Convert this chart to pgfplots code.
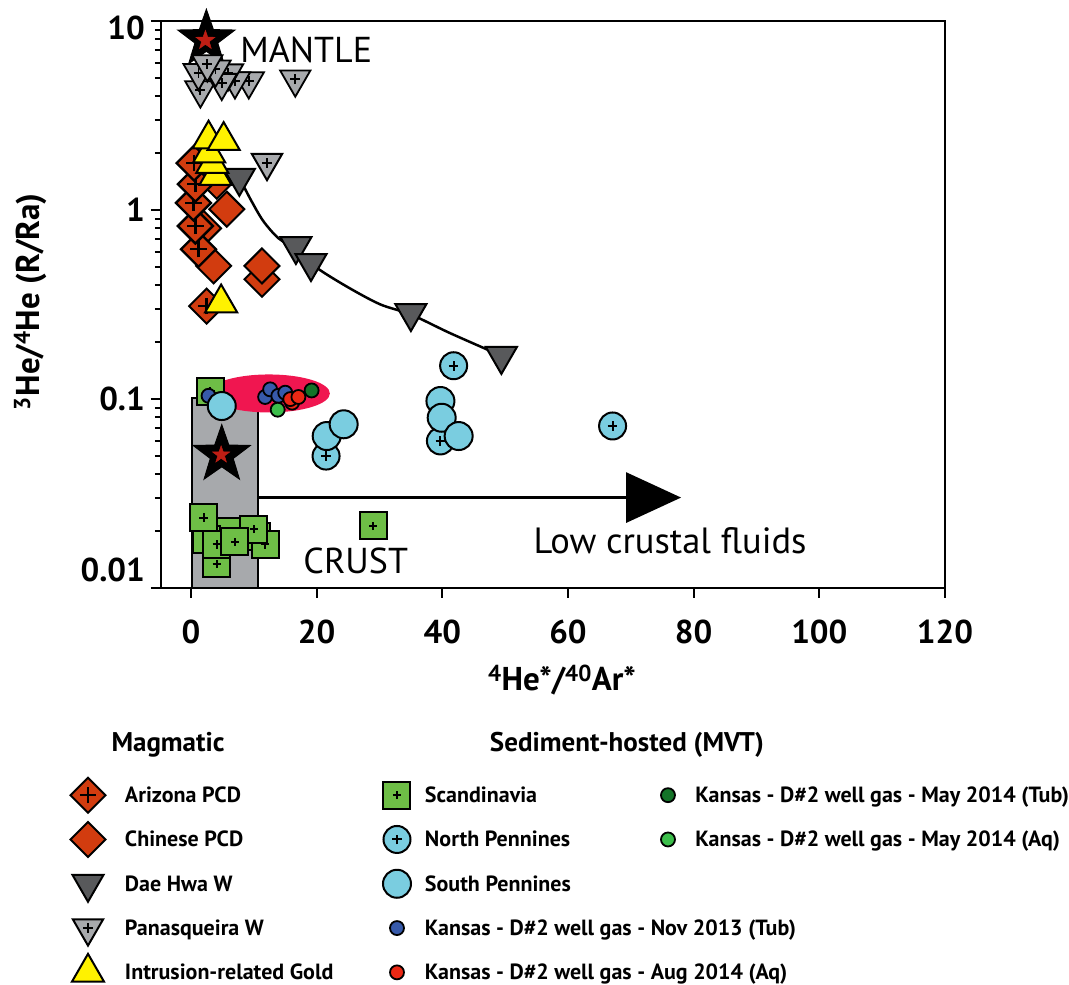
\documentclass[border=0pt]{standalone}
\usepackage{fontspec}
\setmainfont{PT Sans}
\usepackage{pgfplots}
\pgfplotsset{compat=1.18}
\usetikzlibrary{arrows.meta}

\definecolor{cOr}{RGB}{210,60,15}
\definecolor{cDk}{RGB}{88,89,91}
\definecolor{cLt}{RGB}{167,169,172}
\definecolor{cYe}{RGB}{255,242,0}
\definecolor{cGr}{RGB}{110,190,70}
\definecolor{cBl}{RGB}{122,205,224}
\definecolor{kBlue}{RGB}{55,90,170}
\definecolor{kRed}{RGB}{235,40,20}
\definecolor{kDg}{RGB}{20,115,40}
\definecolor{kLg}{RGB}{60,190,75}
\definecolor{cRect}{RGB}{167,169,172}
\definecolor{cEll}{RGB}{240,22,80}
\definecolor{cStar}{RGB}{190,30,20}

\pgfdeclareplotmark{mdiam}{%
 \pgfpathmoveto{\pgfqpoint{0pt}{\pgfplotmarksize}}%
 \pgfpathlineto{\pgfqpoint{\pgfplotmarksize}{0pt}}%
 \pgfpathlineto{\pgfqpoint{0pt}{-\pgfplotmarksize}}%
 \pgfpathlineto{\pgfqpoint{-\pgfplotmarksize}{0pt}}%
 \pgfpathclose\pgfusepathqfillstroke}
\pgfdeclareplotmark{mdiamplus}{%
 \pgfpathmoveto{\pgfqpoint{0pt}{\pgfplotmarksize}}%
 \pgfpathlineto{\pgfqpoint{\pgfplotmarksize}{0pt}}%
 \pgfpathlineto{\pgfqpoint{0pt}{-\pgfplotmarksize}}%
 \pgfpathlineto{\pgfqpoint{-\pgfplotmarksize}{0pt}}%
 \pgfpathclose\pgfusepathqfillstroke
 \pgfsetlinewidth{2.4pt}%
 \pgfpathmoveto{\pgfqpoint{-0.47\pgfplotmarksize}{0pt}}%
 \pgfpathlineto{\pgfqpoint{0.47\pgfplotmarksize}{0pt}}%
 \pgfpathmoveto{\pgfqpoint{0pt}{-0.47\pgfplotmarksize}}%
 \pgfpathlineto{\pgfqpoint{0pt}{0.47\pgfplotmarksize}}%
 \pgfusepathqstroke}
\pgfdeclareplotmark{mtridown}{%
 \pgfpathmoveto{\pgfqpoint{0pt}{-\pgfplotmarksize}}%
 \pgfpathlineto{\pgfqpoint{0.866\pgfplotmarksize}{0.5\pgfplotmarksize}}%
 \pgfpathlineto{\pgfqpoint{-0.866\pgfplotmarksize}{0.5\pgfplotmarksize}}%
 \pgfpathclose\pgfusepathqfillstroke}
\pgfdeclareplotmark{mtridownplus}{%
 \pgfpathmoveto{\pgfqpoint{0pt}{-\pgfplotmarksize}}%
 \pgfpathlineto{\pgfqpoint{0.866\pgfplotmarksize}{0.5\pgfplotmarksize}}%
 \pgfpathlineto{\pgfqpoint{-0.866\pgfplotmarksize}{0.5\pgfplotmarksize}}%
 \pgfpathclose\pgfusepathqfillstroke
 \pgfsetlinewidth{1.8pt}%
 \pgfpathmoveto{\pgfqpoint{-0.28\pgfplotmarksize}{0pt}}%
 \pgfpathlineto{\pgfqpoint{0.28\pgfplotmarksize}{0pt}}%
 \pgfpathmoveto{\pgfqpoint{0pt}{-0.28\pgfplotmarksize}}%
 \pgfpathlineto{\pgfqpoint{0pt}{0.28\pgfplotmarksize}}%
 \pgfusepathqstroke}
\pgfdeclareplotmark{mtriup}{%
 \pgfpathmoveto{\pgfqpoint{0pt}{\pgfplotmarksize}}%
 \pgfpathlineto{\pgfqpoint{0.866\pgfplotmarksize}{-0.5\pgfplotmarksize}}%
 \pgfpathlineto{\pgfqpoint{-0.866\pgfplotmarksize}{-0.5\pgfplotmarksize}}%
 \pgfpathclose\pgfusepathqfillstroke}
\pgfdeclareplotmark{msqplus}{%
 \pgfpathrectangle{\pgfqpoint{-\pgfplotmarksize}{-\pgfplotmarksize}}{\pgfqpoint{2\pgfplotmarksize}{2\pgfplotmarksize}}%
 \pgfusepathqfillstroke
 \pgfsetlinewidth{2pt}%
 \pgfpathmoveto{\pgfqpoint{-0.3\pgfplotmarksize}{0pt}}%
 \pgfpathlineto{\pgfqpoint{0.3\pgfplotmarksize}{0pt}}%
 \pgfpathmoveto{\pgfqpoint{0pt}{-0.3\pgfplotmarksize}}%
 \pgfpathlineto{\pgfqpoint{0pt}{0.3\pgfplotmarksize}}%
 \pgfusepathqstroke}
\pgfdeclareplotmark{mcircplus}{%
 \pgfpathcircle{\pgfpointorigin}{\pgfplotmarksize}%
 \pgfusepathqfillstroke
 \pgfsetlinewidth{2pt}%
 \pgfpathmoveto{\pgfqpoint{-0.36\pgfplotmarksize}{0pt}}%
 \pgfpathlineto{\pgfqpoint{0.36\pgfplotmarksize}{0pt}}%
 \pgfpathmoveto{\pgfqpoint{0pt}{-0.36\pgfplotmarksize}}%
 \pgfpathlineto{\pgfqpoint{0pt}{0.36\pgfplotmarksize}}%
 \pgfusepathqstroke}
\pgfdeclareplotmark{mstar}{%
 \pgfpathmoveto{\pgfqpointpolar{90}{\pgfplotmarksize}}%
 \pgfpathlineto{\pgfqpointpolar{126}{0.4\pgfplotmarksize}}%
 \pgfpathlineto{\pgfqpointpolar{162}{\pgfplotmarksize}}%
 \pgfpathlineto{\pgfqpointpolar{198}{0.4\pgfplotmarksize}}%
 \pgfpathlineto{\pgfqpointpolar{234}{\pgfplotmarksize}}%
 \pgfpathlineto{\pgfqpointpolar{270}{0.4\pgfplotmarksize}}%
 \pgfpathlineto{\pgfqpointpolar{306}{\pgfplotmarksize}}%
 \pgfpathlineto{\pgfqpointpolar{342}{0.4\pgfplotmarksize}}%
 \pgfpathlineto{\pgfqpointpolar{18}{\pgfplotmarksize}}%
 \pgfpathlineto{\pgfqpointpolar{54}{0.4\pgfplotmarksize}}%
 \pgfpathclose\pgfusepathqfillstroke}

\tikzset{
 sAz/.style={only marks, mark=mdiamplus, mark size=17.5pt, mark options={fill=cOr, draw=black, line width=2pt}},
 sCn/.style={only marks, mark=mdiam, mark size=17.5pt, mark options={fill=cOr, draw=black, line width=2pt}},
 sDh/.style={only marks, mark=mtridown, mark size=18pt, mark options={fill=cDk, draw=black, line width=2pt}},
 sPa/.style={only marks, mark=mtridownplus, mark size=17.5pt, mark options={fill=cLt, draw=black, line width=2pt}},
 sAu/.style={only marks, mark=mtriup, mark size=18.5pt, mark options={fill=cYe, draw=black, line width=2pt}},
 sSc/.style={only marks, mark=msqplus, mark size=13.5pt, mark options={fill=cGr, draw=black, line width=2pt}},
 sNp/.style={only marks, mark=mcircplus, mark size=13.5pt, mark options={fill=cBl, draw=black, line width=2pt}},
 sSp/.style={only marks, mark=*, mark size=14pt, mark options={fill=cBl, draw=black, line width=2pt}},
 sKn/.style={only marks, mark=*, mark size=7pt, mark options={fill=kBlue, draw=black, line width=1.8pt}},
 sKa/.style={only marks, mark=*, mark size=7pt, mark options={fill=kRed, draw=black, line width=1.8pt}},
 sKt/.style={only marks, mark=*, mark size=7pt, mark options={fill=kDg, draw=black, line width=1.8pt}},
 sKq/.style={only marks, mark=*, mark size=7pt, mark options={fill=kLg, draw=black, line width=1.8pt}},
}

\newcommand{\ca}[1]{\makebox[273pt][l]{\hspace*{19pt}#1}}
\newcommand{\cb}[1]{\makebox[235pt][l]{\hspace*{10pt}#1}}
\newcommand{\cc}[1]{\makebox[0pt][l]{\hspace*{9pt}#1}}

\begin{document}
\begin{tikzpicture}
\useasboundingbox (0,0) rectangle (1069pt,-985pt);
\begin{axis}[
  at={(161pt,-588pt)}, anchor=south west,
  scale only axis, width=784pt, height=567pt,
  xmin=-4.77, xmax=120, ymin=0.01, ymax=10, ymode=log,
  clip=false,
  axis line style={line width=2.5pt},
  every tick/.style={black, line width=2pt},
  tick align=outside, tick pos=left,
  major tick length=10pt, minor tick length=6pt,
  xtick={0,20,40,60,80,100,120},
  ytick={0.01,0.1,1,10},
  yticklabels={\raisebox{18pt}{0.01},0.1,1,\raisebox{-7pt}{10}},
  /pgf/number format/assume math mode=true,
  ticklabel style={font=\fontsize{33}{33}\selectfont\bfseries, inner sep=0pt, text height=23pt, text depth=0pt},
  yticklabel style={xshift=-6pt},
  xticklabel style={yshift=-22pt},
  xlabel={\textsuperscript{4}He*/\textsuperscript{40}Ar*},
  ylabel={\textsuperscript{3}He/\textsuperscript{4}He (R/Ra)},
  every axis x label/.style={at={(axis description cs:0.5115,-0.1623)}, anchor=center, font=\fontsize{33}{33}\selectfont\bfseries},
  every axis y label/.style={at={(axis description cs:-0.167,0.505)}, rotate=90, anchor=center, font=\fontsize{33}{33}\selectfont\bfseries},
  legend columns=3,
  legend cell align=left,
  legend style={at={(-0.11607,-0.32628)}, anchor=north west, draw=none, fill=none,
    inner sep=0pt, outer sep=0pt, row sep=0pt, column sep=0pt,
    font=\fontsize{22}{22}\selectfont\bfseries,
    nodes={inner sep=0pt, outer sep=0pt, text height=15pt, text depth=0pt},
    cells={anchor=west, inner sep=0pt, outer sep=0pt, text height=15pt, text depth=0pt}},
  legend image code/.code={\path[draw=none,fill=none] (-18pt,-22.15pt) rectangle (18pt,22.15pt); \draw[#1] plot coordinates {(0pt,0pt)};},
]
% crust box
\addplot[forget plot, fill=cRect, draw=black, line width=2pt] coordinates {(0.16,0.01) (0.16,0.101) (10.7,0.101) (10.7,0.01)} -- cycle;
% Kansas highlight
\fill[cEll] (axis cs:12.4,0.107) ellipse [x radius=61pt, y radius=19pt];
% arrow
\addplot[forget plot, black, line width=3pt, -{Triangle[length=55pt,width=50pt]}] coordinates {(10.7,0.0301) (78,0.0301)};
% stars
\addplot[forget plot, only marks, mark=mstar, mark size=30pt, mark options={fill=black, draw=black, line width=1pt}] coordinates {(2.45,8.0) (4.9,0.0507)};
\addplot[forget plot, only marks, mark=mstar, mark size=10pt, mark options={fill=cStar, draw=cStar, line width=0.5pt}] coordinates {(2.3,7.9)};
\addplot[forget plot, only marks, mark=mstar, mark size=9pt, mark options={fill=cStar, draw=cStar, line width=0.5pt}] coordinates {(4.8,0.0507)};
% Dae Hwa mixing curve
\addplot[forget plot, black, line width=2.5pt, smooth, mark=none] coordinates {(7.7,1.48) (9.6,1.12) (11.5,0.875) (13.9,0.71) (16.7,0.62) (20.0,0.495) (25,0.39) (30.1,0.317) (35.0,0.28) (41,0.225) (47.1,0.183) (49.4,0.169)};
% Chinese PCD
\addplot[forget plot, sCn] coordinates {(11.3,0.43) (11.3,0.506) (3.6,0.506) (2.0,0.80) (5.7,1.01) (4.1,1.42)};
% Arizona PCD
\addplot[forget plot, sAz] coordinates {(2.5,0.31) (1.2,0.62) (0.7,0.823) (0.4,1.09) (0.7,1.37) (0.5,1.77)};
% Dae Hwa W
\addplot[forget plot, sDh] coordinates {(7.7,1.48) (16.7,0.645) (19.1,0.524) (35.0,0.285) (49.4,0.169)};
% Panasqueira W
\addplot[forget plot, sPa] coordinates {(12.1,1.78) (16.6,4.92) (1.5,4.31) (9.2,4.81) (7.0,4.81) (5.9,5.3) (4.9,4.72) (1.2,5.33) (3.9,5.55) (2.6,5.92)};
% Intrusion-related gold
\addplot[forget plot, sAu] coordinates {(4.8,0.322) (3.9,1.52) (3.4,1.76) (2.9,2.0) (2.8,2.37) (5.2,2.33)};
% Scandinavia
\addplot[forget plot, sSc] coordinates {(3.1,0.110) (5.9,0.020) (10.5,0.0187) (4.1,0.0134) (2.5,0.0181) (2.0,0.0236) (4.1,0.017) (11.8,0.017) (10.0,0.0205) (7.0,0.0176) (29.0,0.0213)};
% Kansas
\addplot[forget plot, sKn] coordinates {(2.8,0.104) (11.8,0.1025) (12.6,0.1125) (13.9,0.104) (15.0,0.108)};
\addplot[forget plot, sKa] coordinates {(16.1,0.0957) (15.8,0.0999) (17.1,0.1025)};
\addplot[forget plot, sKt] coordinates {(19.2,0.111)};
\addplot[forget plot, sKq] coordinates {(13.8,0.0878)};
% North Pennines
\addplot[forget plot, sNp] coordinates {(41.8,0.150) (21.5,0.0499) (39.7,0.060) (67.1,0.072)};
% South Pennines
\addplot[forget plot, sSp] coordinates {(4.9,0.0918) (21.6,0.0637) (24.3,0.0735) (39.7,0.0976) (39.9,0.0796) (42.6,0.0637)};

\node[anchor=base west, inner sep=0pt, font=\fontsize{36}{36}\selectfont] at (axis cs:7.84,6.0) {MANTLE};
\node[anchor=base west, inner sep=0pt, font=\fontsize{36}{36}\selectfont] at (axis cs:17.87,0.0120) {CRUST};
\node[anchor=base west, inner sep=0pt, font=\fontsize{36.5}{36.5}\selectfont] at (axis cs:54.5,0.01531) {Low crustal fluids};

% legend (row-major, 3 columns)
\addlegendimage{sAz}\addlegendentry{\ca{Arizona PCD}}
\addlegendimage{sSc}\addlegendentry{\cb{Scandinavia}}
\addlegendimage{sKt}\addlegendentry{\cc{Kansas - D\#2 well gas - May 2014 (Tub)}}
\addlegendimage{sCn}\addlegendentry{\ca{Chinese PCD}}
\addlegendimage{sNp}\addlegendentry{\cb{North Pennines}}
\addlegendimage{sKq}\addlegendentry{\cc{Kansas - D\#2 well gas - May 2014 (Aq)}}
\addlegendimage{sDh}\addlegendentry{\ca{Dae Hwa W}}
\addlegendimage{sSp}\addlegendentry{\cb{South Pennines}}
\addlegendimage{empty legend}\addlegendentry{}
\addlegendimage{sPa}\addlegendentry{\ca{Panasqueira W}}
\addlegendimage{sKn}\addlegendentry{\cb{Kansas - D\#2 well gas - Nov 2013 (Tub)}}
\addlegendimage{empty legend}\addlegendentry{}
\addlegendimage{sAu}\addlegendentry{\ca{Intrusion-related Gold}}
\addlegendimage{sKa}\addlegendentry{\cb{Kansas - D\#2 well gas - Aug 2014 (Aq)}}
\addlegendimage{empty legend}\addlegendentry{}
\end{axis}
\node[font=\fontsize{27}{27}\selectfont\bfseries] at (168pt,-745pt) {Magmatic};
\node[font=\fontsize{27}{27}\selectfont\bfseries] at (627pt,-745pt) {Sediment-hosted (MVT)};
\end{tikzpicture}
\end{document}
